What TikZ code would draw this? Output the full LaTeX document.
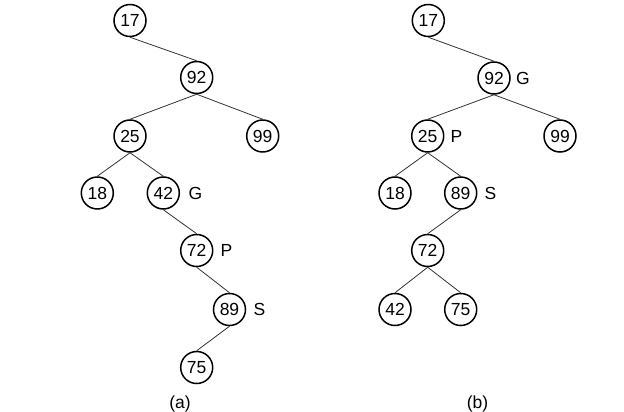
\documentclass[tikz,border=0pt]{standalone}
\usepackage{fontspec}
\setmainfont{Liberation Sans}
\begin{document}
\begin{tikzpicture}[x=1pt,y=-1pt,
  nd/.style={circle,draw,line width=1.5pt,minimum size=32pt,inner sep=0pt,font=\fontsize{17.5}{21}\selectfont},
  tag/.style={font=\fontsize{17.5}{21}\selectfont,inner sep=0pt},
  edge/.style={line width=0.8pt,draw=black!80}]
\useasboundingbox (0,0) rectangle (624,412);
% tree (a)
\node[nd] (a17) at (130,20.5) {17};
\node[nd] (a92) at (196.7,77.5) {92};
\node[nd] (a25) at (130,136) {25};
\node[nd] (a99) at (262.7,136) {99};
\node[nd] (a18) at (97.3,193) {18};
\node[nd] (a42) at (163.3,193) {42};
\node[nd] (a72) at (196.7,250.5) {72};
\node[nd] (a89) at (229.5,309.5) {89};
\node[nd] (a75) at (196.7,367.5) {75};
\node[tag] (aG) at (195.5,193) {G};
\node[tag] (aP) at (226.5,250.5) {P};
\node[tag] (aS) at (259.5,309.5) {S};
\node[tag] (alab) at (180,403.5) {(a)};
\draw[edge] (a17.south) -- (a92.north);
\draw[edge] (a92.south) -- (a25.north);
\draw[edge] (a92.south) -- (a99.north);
\draw[edge] (a25.south) -- (a18.north);
\draw[edge] (a25.south) -- (a42.north);
\draw[edge] (a42.south) -- (a72.north);
\draw[edge] (a72.south) -- (a89.north);
\draw[edge] (a89.south) -- (a75.north);
% tree (b)
\node[nd] (b17) at (428.3,20.5) {17};
\node[nd] (b92) at (494,78) {92};
\node[nd] (b25) at (427.7,136) {25};
\node[nd] (b99) at (560,136) {99};
\node[nd] (b18) at (395,193) {18};
\node[nd] (b89) at (460.7,193) {89};
\node[nd] (b72) at (427.7,250.5) {72};
\node[nd] (b42) at (395,309.5) {42};
\node[nd] (b75) at (460.7,309.5) {75};
\node[tag] (bG) at (523,78) {G};
\node[tag] (bP) at (456.5,136) {P};
\node[tag] (bS) at (490.5,193) {S};
\node[tag] (blab) at (477.5,403.5) {(b)};
\draw[edge] (b17.south) -- (b92.north);
\draw[edge] (b92.south) -- (b25.north);
\draw[edge] (b92.south) -- (b99.north);
\draw[edge] (b25.south) -- (b18.north);
\draw[edge] (b25.south) -- (b89.north);
\draw[edge] (b89.south) -- (b72.north);
\draw[edge] (b72.south) -- (b42.north);
\draw[edge] (b72.south) -- (b75.north);
\end{tikzpicture}
\end{document}
